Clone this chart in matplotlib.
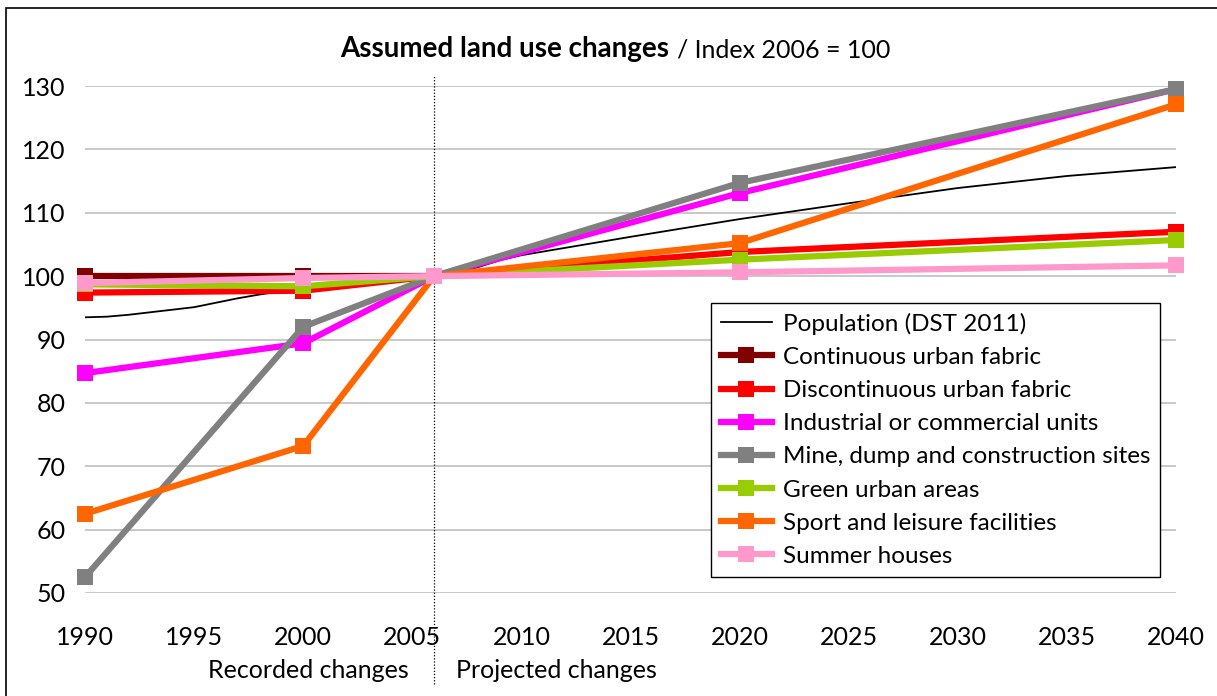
import matplotlib
matplotlib.use("Agg")
import matplotlib.pyplot as plt
from matplotlib.patches import Rectangle

plt.rcParams['font.family'] = ['Lato', 'DejaVu Sans']

# population index, yearly
pop_years = [1990, 1991, 1992, 1993, 1994, 1995, 1996, 1997, 1998, 1999, 2000,
             2001, 2002, 2003, 2004, 2005, 2006, 2007, 2008, 2009, 2010,
             2015, 2020, 2025, 2030, 2035, 2040]
pop_values = [93.5, 93.6, 93.9, 94.3, 94.7, 95.1, 95.8, 96.5, 97.1, 97.6, 97.9,
              98.4, 98.8, 99.2, 99.5, 99.8, 100.0, 100.6, 101.4, 102.5, 103.3,
              106.2, 109.0, 111.5, 113.9, 115.8, 117.2]

# land use series
years = [1990, 2000, 2006, 2020, 2040]
continuous_urban = [100.0, 100.0, 100.0, None, None]
discontinuous_urban = [97.4, 97.7, 100.0, 103.8, 107.0]
industrial = [84.7, 89.4, 100.0, 113.1, 129.5]
mine_dump = [52.5, 92.0, 100.0, 114.7, 129.5]
green_urban = [98.7, 98.4, 100.0, 102.6, 105.7]
sport_leisure = [62.5, 73.2, 100.0, 105.2, 127.1]
summer_houses = [98.9, 99.7, 100.0, 100.6, 101.7]

series_names = ['Continuous urban fabric', 'Discontinuous urban fabric',
                'Industrial or commercial units', 'Mine, dump and construction sites',
                'Green urban areas', 'Sport and leisure facilities', 'Summer houses']
series_values = [continuous_urban, discontinuous_urban, industrial, mine_dump,
                 green_urban, sport_leisure, summer_houses]
colors = ['#800000', '#FF0000', '#FF00FF', '#808080', '#99CC00', '#FF6600', '#FF99CC']

fig = plt.figure(figsize=(12.17, 6.96), dpi=100)
ax = fig.add_axes([85 / 1217, 1 - 593 / 696, (1176 - 85) / 1217, 507 / 696])

# outer frame
fig.patches.append(Rectangle((6 / 1217, -0.01), 1.0, 1 - 8 / 696 + 0.01,
                             transform=fig.transFigure, fill=False,
                             edgecolor='black', linewidth=1.2))

ax.plot(pop_years, pop_values, color='black', linewidth=1.3, zorder=3,
        label='Population (DST 2011)')

for name, vals, c in zip(series_names, series_values, colors):
    xs = [x for x, v in zip(years, vals) if v is not None]
    ys = [v for v in vals if v is not None]
    ax.plot(xs, ys, color=c, linewidth=4.5, marker='s', markersize=12,
            markeredgewidth=0, clip_on=False, zorder=4, label=name)

ax.set_xlim(1990, 2040)
ax.set_ylim(50, 130)
ax.set_xticks(range(1990, 2041, 5))
ax.set_yticks(range(50, 131, 10))
ax.grid(axis='y', color='#BFBFBF', linewidth=1.2)
ax.set_axisbelow(True)
for s in ax.spines.values():
    s.set_visible(False)
ax.tick_params(length=0, labelsize=18)
ax.tick_params(axis='x', pad=24)
ax.tick_params(axis='y', pad=14)

ax.axvline(2006, ymin=-0.18, ymax=1.02, color='black', linestyle=(0, (1, 1.5)),
           linewidth=0.9, clip_on=False, zorder=2)

fig.text(308 / 1217, 1 - 671 / 696, 'Recorded changes', ha='center', va='center', fontsize=18)
fig.text(556 / 1217, 1 - 671 / 696, 'Projected changes', ha='center', va='center', fontsize=18)

fig.text(669 / 1217, 1 - 57 / 696, 'Assumed land use changes', ha='right',
         va='baseline', fontsize=20, fontweight='bold')
fig.text(677 / 1217, 1 - 57 / 696, '/ Index 2006 = 100', ha='left',
         va='baseline', fontsize=18)

handles, labels = ax.get_legend_handles_labels()
leg = fig.legend(handles, labels, loc='upper left',
                 bbox_to_anchor=(711 / 1217, 1 - 303 / 696), borderaxespad=0,
                 fontsize=17.5, frameon=True, fancybox=False, edgecolor='black',
                 framealpha=1, handlelength=2.1, labelspacing=0.5,
                 borderpad=0.4, handletextpad=0.45, markerscale=1.0)
leg.get_frame().set_linewidth(1.0)

fig.savefig('out.png', dpi=100)
